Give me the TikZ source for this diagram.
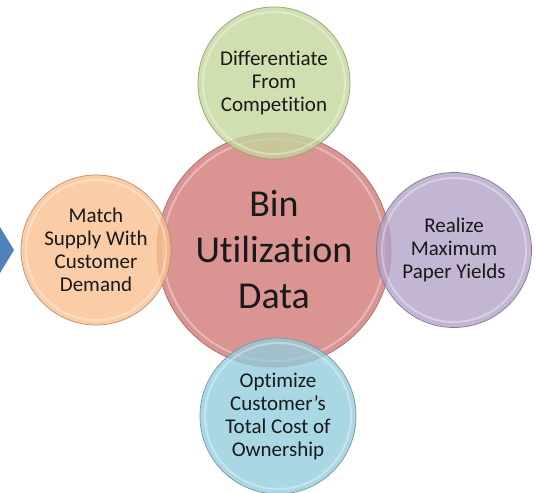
\documentclass[tikz,border=0pt]{standalone}
\usepackage{fontspec}
\setmainfont[Ligatures=NoCommon]{Carlito}
\definecolor{hubred}{RGB}{218,148,146}
\definecolor{leafgreen}{RGB}{196,214,155}
\definecolor{leaforange}{RGB}{250,192,143}
\definecolor{leafpurple}{RGB}{178,162,199}
\definecolor{leafblue}{RGB}{147,205,221}
\definecolor{arrowblue}{RGB}{79,129,189}
\tikzset{
  bubble/.style={circle,draw=#1!75!black,line width=0.7pt,fill=#1,fill opacity=0.78,
    text opacity=1,text=black!90,align=center,inner sep=0pt,
    font=\fontsize{21}{23}\selectfont},
  rim/.style={white,line width=2pt,opacity=0.35}
}
\begin{document}
\begin{tikzpicture}[x=1pt,y=-1pt]
\useasboundingbox (0,0) rectangle (536,493);
\fill[white] (0,0) rectangle (536,493);
%ARROW
\fill[arrowblue] (0,227) -- (14,250) -- (0,273) -- cycle;
%HUB
\node[bubble=hubred,fill opacity=1,minimum size=234pt,font=\fontsize{38}{46}\selectfont] (hub) at (274,250) {Bin\\Utilization\\Data};
\draw[rim] (hub.center) circle (111);
%TOP
\node[bubble=leafgreen,minimum size=152pt] (top) at (274,83) {Differentiate\\From\\Competition};
\draw[rim] (top.center) circle (71);
%LEFT
\node[bubble=leaforange,minimum size=150pt] (left) at (96,250) {Match\\Supply With\\Customer\\Demand};
\draw[rim] (left.center) circle (70);
%RIGHT
\node[bubble=leafpurple,minimum size=155pt] (right) at (454,250) {Realize\\Maximum\\Paper Yields};
\draw[rim] (right.center) circle (72);
%BOTTOM
\node[bubble=leafblue,minimum size=156pt] (bottom) at (278,416) {Optimize\\Customer’s\\Total Cost of\\Ownership};
\draw[rim] (bottom.center) circle (73);
\end{tikzpicture}
\end{document}
